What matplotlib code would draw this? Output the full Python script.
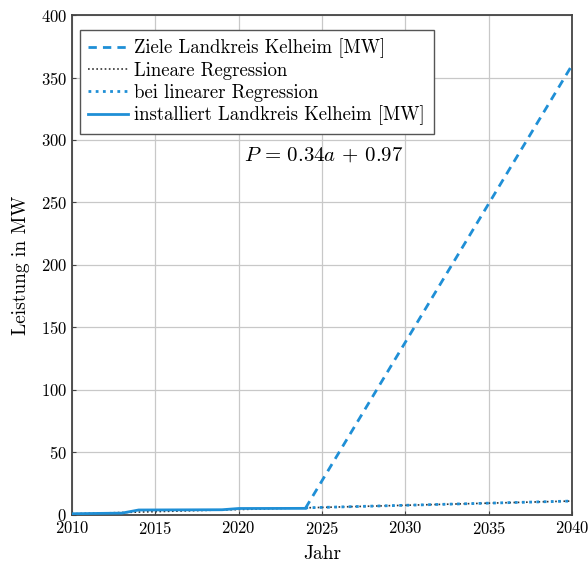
import matplotlib
matplotlib.use("Agg")
import matplotlib.pyplot as plt

plt.rcParams['font.family'] = ['cmr10', 'DejaVu Serif']
plt.rcParams['mathtext.fontset'] = 'cm'
plt.rcParams['axes.formatter.use_mathtext'] = True

# installed capacity (MW)
inst_years = [2010, 2013, 2014, 2019, 2020, 2024]
inst_mw = [1.0, 1.5, 4.0, 4.2, 5.2, 5.3]

# targets Landkreis Kelheim (MW)
goal_years = [2024, 2040]
goal_mw = [5.3, 360]

# linear regression P = 0.34a + 0.97, a = years since 2010
slope, intercept = 0.34, 0.97
reg_years = [2010, 2040]
proj_years = [2024, 2040]

blue = '#1f8fd6'

fig = plt.figure(figsize=(5.88, 5.64), dpi=100)
ax = fig.add_axes([0.1224, 0.0869, 0.8506, 0.8865])

ax.plot(goal_years, goal_mw, color=blue, ls=(0, (3, 2.2)), lw=2.0,
        label='Ziele Landkreis Kelheim [MW]', zorder=3)
ax.plot(reg_years, [slope * (y - 2010) + intercept for y in reg_years],
        color='#333333', ls=(0, (1, 1.5)), lw=1.2, label='Lineare Regression', zorder=3)
ax.plot(proj_years, [slope * (y - 2010) + intercept for y in proj_years],
        color=blue, ls=(0, (1, 1.6)), lw=2.0, label='bei linearer Regression', zorder=3)
ax.plot(inst_years, inst_mw, color=blue, lw=2.0,
        label='installiert Landkreis Kelheim [MW]', zorder=4)

ax.text(2025.1, 288, r'$P\,=\,0.34a\,+\,0.97$', fontsize=15, ha='center', va='center')

ax.set_xlim(2010, 2040)
ax.set_ylim(0, 400)
ax.set_xticks(range(2010, 2041, 5))
ax.set_yticks(range(0, 401, 50))
ax.grid(True, color='#c8c8c8', lw=0.9)
ax.set_axisbelow(True)
ax.tick_params(direction='in', length=3, labelsize=12, color='#444444')
for sp in ax.spines.values():
    sp.set_color('#444444')
    sp.set_linewidth(1.3)

ax.set_xlabel('Jahr', fontsize=14, labelpad=6)
ax.set_ylabel('Leistung in MW', fontsize=14, labelpad=8)

leg = ax.legend(loc='upper left', fontsize=13.5, fancybox=False, framealpha=1,
                edgecolor='#555555', handlelength=2.1, handletextpad=0.35,
                borderpad=0.45, labelspacing=0.2, borderaxespad=0,
                bbox_to_anchor=(0.016, 0.97))
leg.get_frame().set_linewidth(1.0)

fig.savefig('out.png', dpi=100)
